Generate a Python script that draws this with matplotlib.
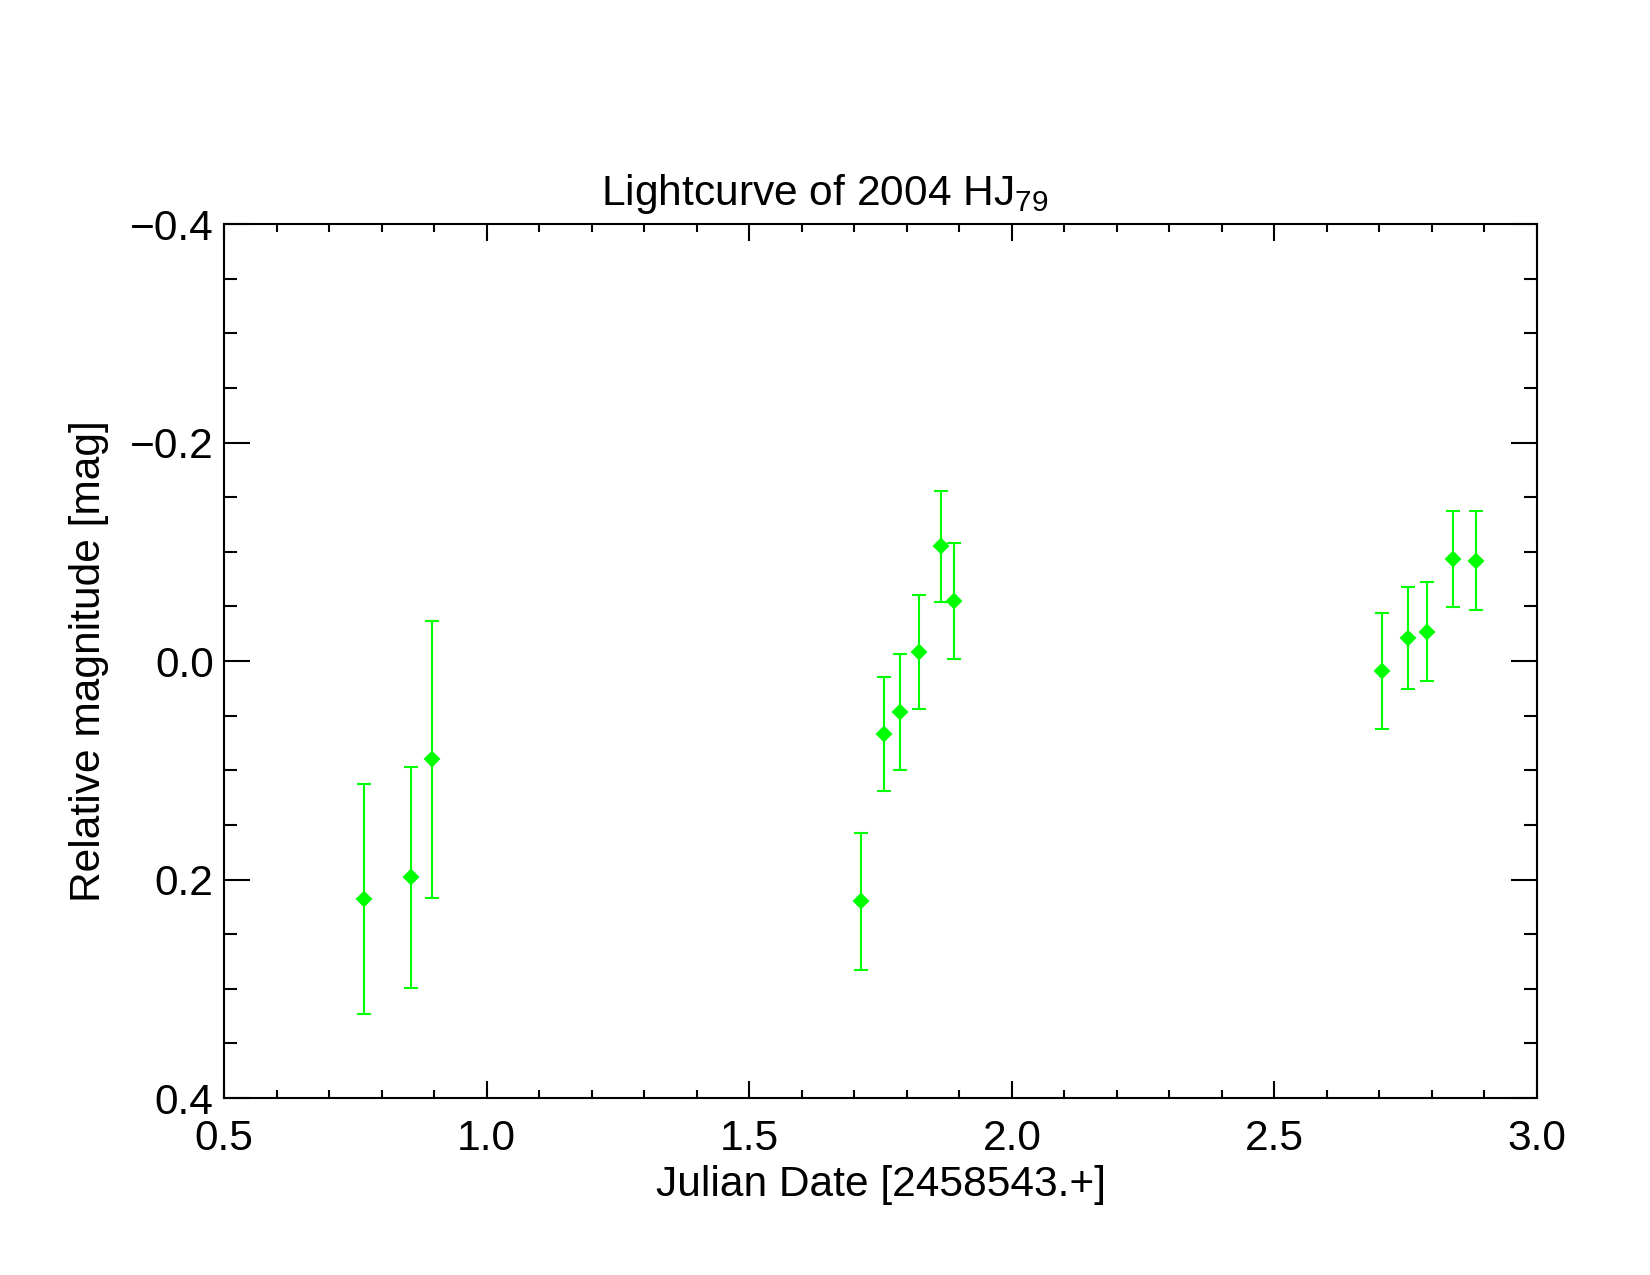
import matplotlib
matplotlib.use("Agg")
import matplotlib.pyplot as plt
from matplotlib.ticker import MultipleLocator

plt.rcParams["font.family"] = ["Liberation Sans", "DejaVu Sans"]
plt.rcParams["mathtext.fontset"] = "custom"
plt.rcParams["mathtext.rm"] = "Liberation Sans"
plt.rcParams["mathtext.it"] = "Liberation Sans"

# lightcurve data
jd = [0.766, 0.855, 0.895, 1.712, 1.756, 1.788, 1.824, 1.866, 1.890,
      2.705, 2.754, 2.790, 2.840, 2.884]
mag = [0.218, 0.198, 0.090, 0.220, 0.067, 0.047, -0.008, -0.105, -0.055,
       0.009, -0.021, -0.027, -0.093, -0.092]
err = [0.105, 0.101, 0.127, 0.063, 0.052, 0.053, 0.052, 0.051, 0.053,
       0.053, 0.047, 0.045, 0.044, 0.045]

FS = 20.4

fig = plt.figure(figsize=(11, 8.5), dpi=150)
ax = fig.add_axes([0.1358, 0.1388, 0.9315 - 0.1358, 0.8243 - 0.1388])

ax.errorbar(jd, mag, yerr=err, fmt="D", color="#00ff00", ms=5,
            elinewidth=1.0, capsize=3.4, capthick=1.0, zorder=3)

ax.set_xlim(0.5, 3.0)
ax.set_ylim(0.4, -0.4)
ax.xaxis.set_major_locator(MultipleLocator(0.5))
ax.xaxis.set_minor_locator(MultipleLocator(0.1))
ax.yaxis.set_major_locator(MultipleLocator(0.2))
ax.yaxis.set_minor_locator(MultipleLocator(0.05))
ax.xaxis.set_major_formatter(lambda v, p: f"{v:.1f}".replace("-", "\u2212"))
ax.yaxis.set_major_formatter(lambda v, p: f"{v:.1f}".replace("-", "\u2212"))

for s in ax.spines.values():
    s.set_linewidth(1.0)
ax.tick_params(axis="x", which="both", direction="in", top=True, bottom=True,
               labelsize=FS, pad=10, width=1.0)
ax.tick_params(axis="x", which="major", length=8)
ax.tick_params(axis="x", which="minor", length=4)
ax.tick_params(axis="y", which="both", direction="in", left=True, right=True,
               labelsize=FS, pad=5, width=1.0)
ax.tick_params(axis="y", which="major", length=12.5)
ax.tick_params(axis="y", which="minor", length=6.2)

ax.set_xlabel("Julian Date [2458543.+]", fontsize=FS, labelpad=3)
ax.set_ylabel("Relative magnitude [mag]", fontsize=FS, labelpad=10)
fig.text(0.5, 0.839, r"Lightcurve of 2004 HJ$_{79}$", fontsize=FS,
         ha="center", va="baseline")

fig.savefig("out.png", dpi=150)
